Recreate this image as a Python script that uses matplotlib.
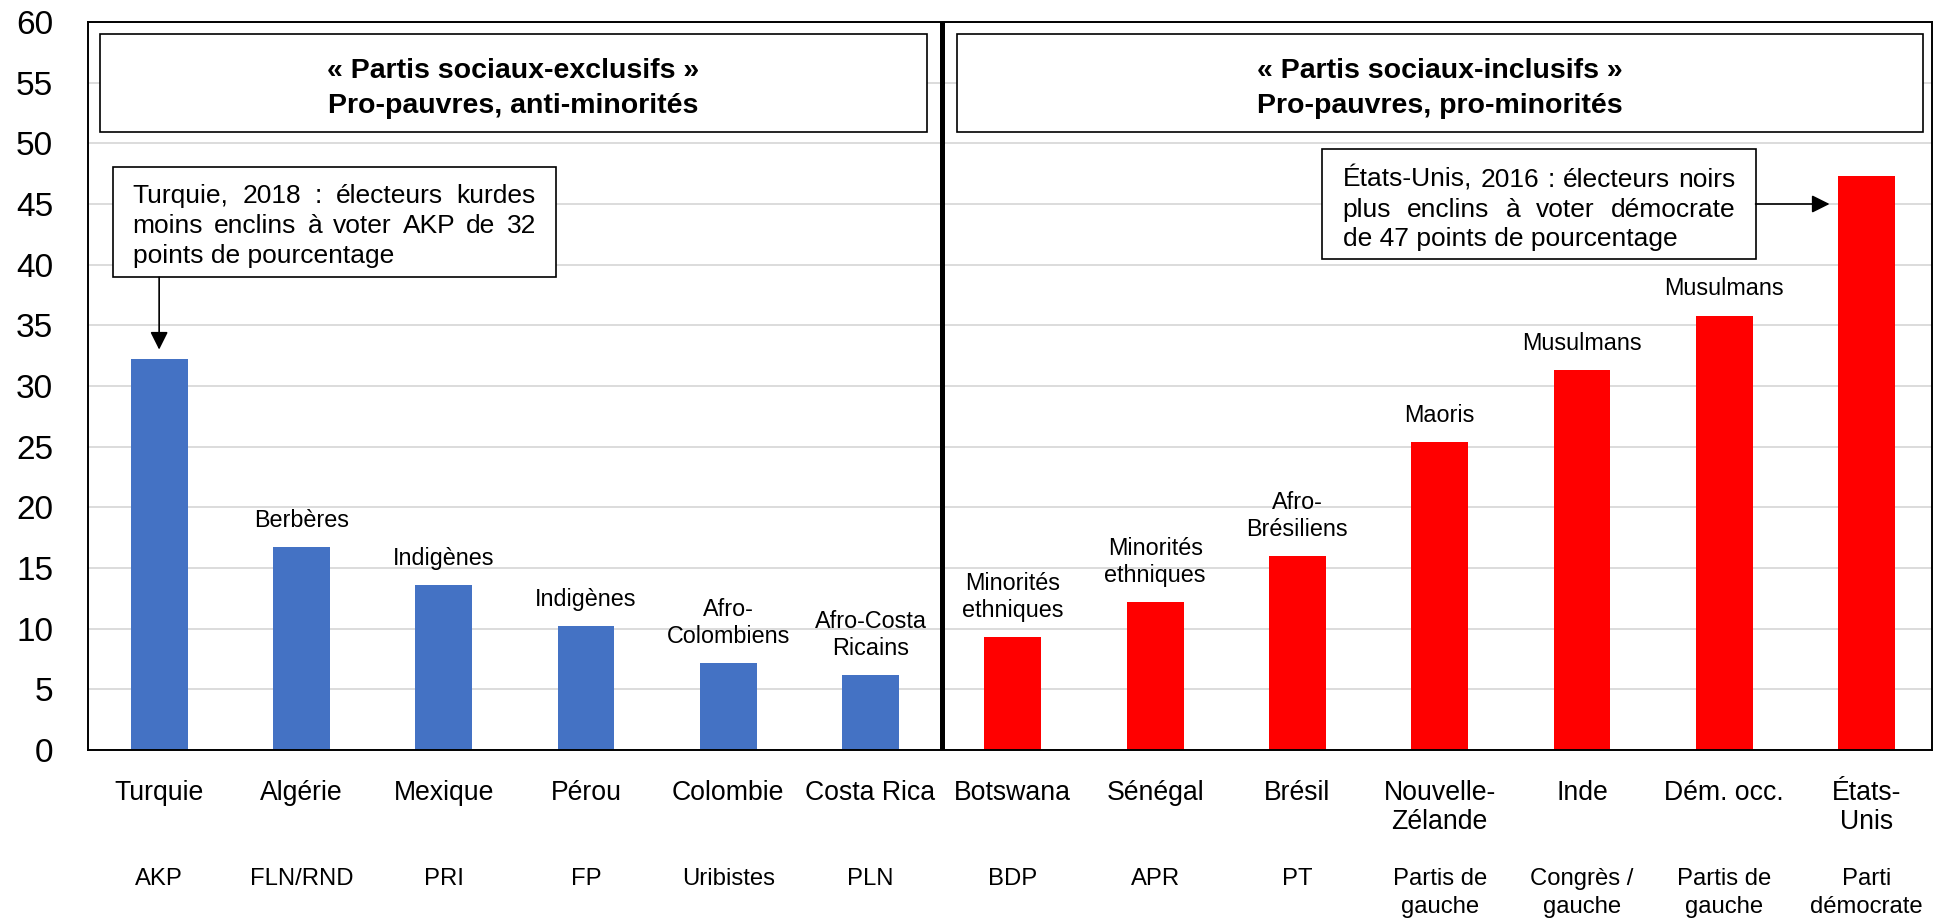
import matplotlib
matplotlib.use("Agg")
import matplotlib.pyplot as plt
from matplotlib.patches import Rectangle

plt.rcParams['font.family'] = ['Liberation Sans', 'DejaVu Sans']

# countries, parties and the minority group behind each bar
countries = ["Turquie", "Algérie", "Mexique", "Pérou", "Colombie", "Costa Rica",
             "Botswana", "Sénégal", "Brésil", "Nouvelle-\nZélande", "Inde",
             "Dém. occ.", "États-\nUnis"]
parties = ["AKP", "FLN/RND", "PRI", "FP", "Uribistes", "PLN", "BDP", "APR", "PT",
           "Partis de\ngauche", "Congrès /\ngauche", "Partis de\ngauche",
           "Parti\ndémocrate"]
minorities = ["", "Berbères", "Indigènes", "Indigènes", "Afro-\nColombiens",
              "Afro-Costa\nRicains", "Minorités\nethniques", "Minorités\nethniques",
              "Afro-\nBrésiliens", "Maoris", "Musulmans", "Musulmans", ""]
# gap in vote share (percentage points)
values = [32.2, 16.7, 13.6, 10.2, 7.2, 6.2, 9.3, 12.2, 16.0, 25.4, 31.3, 35.8, 47.3]
n_exclusive = 6  # first six parties are "socially exclusive"

BLUE = "#4472C4"
RED = "#FF0000"

fig = plt.figure(figsize=(19.39, 9.18), dpi=100)
ax = fig.add_axes([88 / 1939, 1 - 750 / 918, (1932 - 88) / 1939, 728 / 918])

x = list(range(len(values)))
colors = [BLUE if i < n_exclusive else RED for i in x]
ax.bar(x, values, width=0.40, color=colors, zorder=2)

ax.set_xlim(-0.5, 12.46)
ax.set_ylim(0, 60)
ax.set_yticks(range(0, 61, 5))
ax.tick_params(axis='y', length=0, pad=25, labelsize=24)
ax.set_xticks([])
ax.set_axisbelow(True)
ax.yaxis.grid(True, color="#d9d9d9", lw=1.3)
for s in ax.spines.values():
    s.set_color("black")
    s.set_linewidth(1.4)

# separator between the two groups of parties
ax.axvline(n_exclusive - 0.5, color="black", lw=3.6, zorder=4)

# group labels above bars, one line at a time from the bottom up
for xi, v, lab in zip(x, values, minorities):
    if not lab:
        continue
    lines = lab.split("\n")[::-1]
    for k, line in enumerate(lines):
        ax.annotate(line, (xi, v), xytext=(0, 14.5 + k * 19.2), textcoords="offset points",
                    ha="center", va="baseline", fontsize=16.8)

# country and party names below the axis
xtr = ax.get_xaxis_transform()
line_h = 28.5 / 728
for xi, c, p in zip(x, countries, parties):
    for k, line in enumerate(c.split("\n")):
        ax.text(xi, -0.0687 - k * line_h, line, transform=xtr, ha="center",
                va="baseline", fontsize=19.2, clip_on=False)
    for k, line in enumerate(p.split("\n")):
        ax.text(xi, -0.1854 - k * line_h, line, transform=xtr, ha="center",
                va="baseline", fontsize=17.2, clip_on=False)

# header boxes
for x0, x1, title in [(-0.416, 5.396, ["« Partis sociaux-exclusifs »", "Pro-pauvres, anti-minorités"]),
                      (5.607, 12.395, ["« Partis sociaux-inclusifs »", "Pro-pauvres, pro-minorités"])]:
    ax.add_patch(Rectangle((x0, 50.93), x1 - x0, 59.01 - 50.93, facecolor="white",
                           edgecolor="black", lw=1.2, zorder=3))
    for yb, line in zip([55.39, 52.50], title):
        ax.text((x0 + x1) / 2, yb, line, ha="center", va="baseline", fontsize=20.5,
                fontweight="bold", zorder=5)


def justified(lines, x_left, x_right, baselines, size):
    r = fig.canvas.get_renderer()
    inv = ax.transData.inverted()
    for i, (line, yb) in enumerate(zip(lines, baselines)):
        if i == len(lines) - 1:
            ax.text(x_left, yb, line, ha="left", va="baseline", fontsize=size, zorder=5)
            continue
        words = line.split(" ")
        texts = [ax.text(0, yb, w, ha="left", va="baseline", fontsize=size, zorder=5)
                 for w in words]
        widths = [t.get_window_extent(r).width for t in texts]
        xl, yd = ax.transData.transform((x_left, yb))
        xr = ax.transData.transform((x_right, yb))[0]
        gap = (xr - xl - sum(widths)) / (len(words) - 1)
        cur = xl
        for t, w in zip(texts, widths):
            t.set_x(inv.transform((cur, yd))[0])
            cur += w + gap


# Turkey callout
ax.add_patch(Rectangle((-0.326, 38.96), 2.789 + 0.326, 48.08 - 38.96, facecolor="white",
                       edgecolor="black", lw=1.2, zorder=3))
justified(["Turquie, 2018 : électeurs kurdes", "moins enclins à voter AKP de 32",
           "points de pourcentage"], -0.186, 2.648, [45.08, 42.61, 40.13], 19)
ax.annotate("", xy=(0, 33.0), xytext=(0, 38.96),
            arrowprops=dict(arrowstyle="-|>", color="black", lw=1.2,
                            mutation_scale=27, shrinkA=0, shrinkB=0), zorder=4)

# United States callout
ax.add_patch(Rectangle((8.172, 40.47), 11.22 - 8.172, 49.53 - 40.47, facecolor="white",
                       edgecolor="black", lw=1.2, zorder=3))
justified(["États-Unis, 2016 : électeurs noirs", "plus enclins à voter démocrate",
           "de 47 points de pourcentage"], 8.319, 11.08, [46.43, 43.93, 41.53], 19)
ax.annotate("", xy=(11.74, 45.0), xytext=(11.22, 45.0),
            arrowprops=dict(arrowstyle="-|>", color="black", lw=1.2,
                            mutation_scale=27, shrinkA=0, shrinkB=0), zorder=4)

fig.savefig("out.png", dpi=100)
